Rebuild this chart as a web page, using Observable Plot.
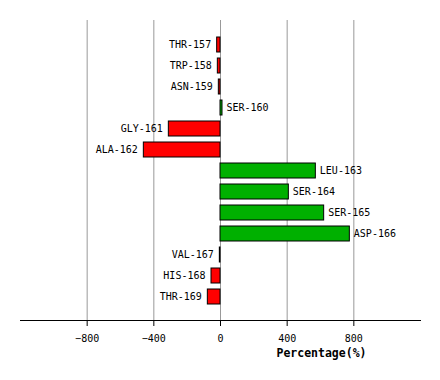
<!DOCTYPE html>
<html>
<head>
<meta charset="utf-8">
<script src="https://cdn.jsdelivr.net/npm/d3@7"></script>
<script src="https://cdn.jsdelivr.net/npm/@observablehq/plot@0.6"></script>
<style>
  html, body { margin: 0; padding: 0; background: #fff; }
</style>
</head>
<body>
<div id="chart"></div>
<script>
const residues = ["THR-157","TRP-158","ASN-159","SER-160","GLY-161","ALA-162","LEU-163","SER-164","SER-165","ASP-166","VAL-167","HIS-168","THR-169"];
const values = [-20, -16, -10, 12, -310, -460, 572, 410, 622, 776, -4, -54, -76];
const xTicks = [-800, -400, 0, 400, 800];
const xDomain = [-1200, 1200];
const axisTitle = "Percentage(%)";

const data = residues.map((r, i) => ({residue: r, value: values[i]}));

const chart = Plot.plot({
  width: 440,
  height: 380,
  marginLeft: 20,
  marginRight: 20,
  marginTop: 20,
  marginBottom: 60,
  style: {fontFamily: "DejaVu Sans Mono", fontSize: "10px", color: "#000", background: "#fff"},
  x: {domain: xDomain, ticks: xTicks},
  y: {domain: residues, paddingInner: 0.3, paddingOuter: 0.65, axis: null},
  marks: [
    Plot.ruleX(xTicks, {stroke: "#999", strokeWidth: 1}),
    Plot.barX(data, {
      x: "value", y: "residue",
      fill: d => d.value < 0 ? "#ff0000" : "#00b000",
      stroke: "#000", strokeWidth: 1
    }),
    Plot.text(data.filter(d => d.value < 0), {
      x: "value", y: "residue", text: "residue",
      textAnchor: "end", dx: -6, fill: "#000"
    }),
    Plot.text(data.filter(d => d.value >= 0), {
      x: "value", y: "residue", text: "residue",
      textAnchor: "start", dx: 4, fill: "#000"
    }),
    Plot.frame({anchor: "bottom", stroke: "#000"}),
    Plot.axisX({ticks: xTicks, tickSize: 6, tickPadding: 8, label: null, stroke: "#000"}),
    Plot.text([axisTitle], {
      frameAnchor: "bottom-right", textAnchor: "end", lineAnchor: "middle",
      dx: -54, dy: 33, fontWeight: "bold", fontSize: 11.5, fill: "#000"
    })
  ]
});
document.getElementById("chart").appendChild(chart);
</script>
</body>
</html>
